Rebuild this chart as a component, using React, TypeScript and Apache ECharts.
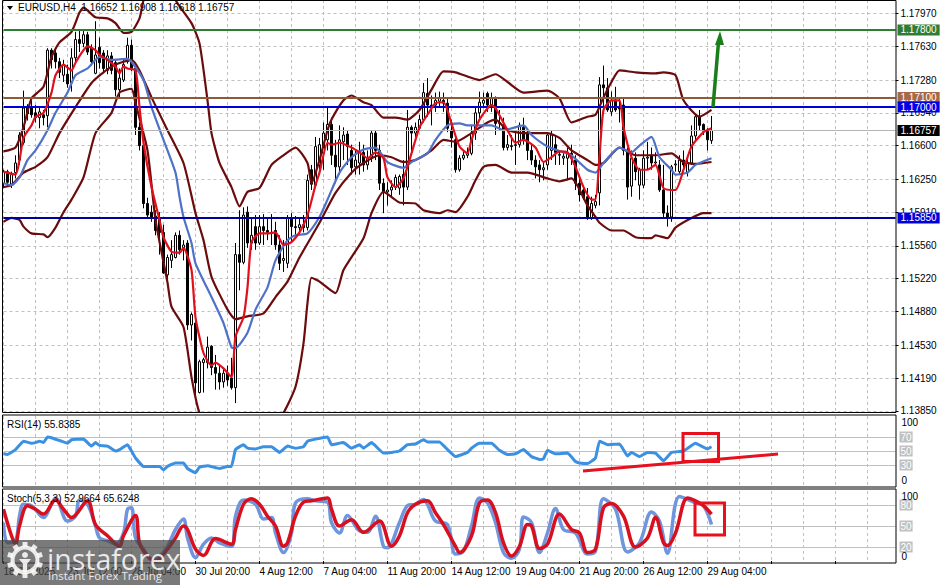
import React, { useEffect, useRef } from "react";
import * as echarts from "echarts";

const FONT = "Liberation Sans";
const BAR_COUNT = 224;
const timeLabels = ["18 Jul 2025","23 Jul 12:00","28 Jul 04:00","30 Jul 20:00","4 Aug 12:00","7 Aug 04:00","11 Aug 20:00","14 Aug 12:00","19 Aug 04:00","21 Aug 20:00","26 Aug 12:00","29 Aug 04:00"];
const priceTicks = [1.1797,1.1763,1.1728,1.1694,1.166,1.1625,1.1591,1.1556,1.1522,1.1488,1.1453,1.1419,1.1385];

// open, close, low, high, in units of 0.0001
const ohlc = [
[11621,11633,11616,11635],[11633,11622,11618,11635],[11620,11630,11616,11633],[11632,11642,11626,11650],[11645,11671,11640,11674],
[11663,11699,11661,11717],[11699,11693,11686,11703],[11700,11692,11689,11707],[11694,11689,11684,11702],[11689,11695,11678,11701],
[11692,11689,11681,11697],[11691,11759,11679,11761],[11759,11749,11740,11761],[11756,11747,11740,11761],[11747,11736,11730,11751],
[11733,11744,11726,11749],[11734,11724,11720,11744],[11725,11751,11716,11761],[11751,11770,11747,11778],[11770,11766,11757,11779],
[11766,11775,11762,11779],[11775,11757,11754,11778],[11761,11747,11743,11765],[11735,11754,11734,11789],[11762,11746,11740,11772],
[11756,11740,11735,11759],[11738,11753,11734,11759],[11753,11738,11734,11757],[11746,11718,11711,11749],[11718,11730,11710,11740],
[11728,11744,11726,11749],[11747,11764,11745,11772],[11764,11740,11737,11770],[11740,11679,11671,11743],[11679,11660,11655,11684],
[11660,11600,11595,11663],[11600,11588,11585,11606],[11591,11586,11581,11598],[11587,11572,11567,11593],[11585,11570,11547,11591],
[11570,11528,11527,11578],[11526,11544,11521,11547],[11541,11547,11533,11562],[11544,11567,11543,11570],[11567,11552,11547,11572],
[11552,11557,11541,11562],[11559,11474,11469,11562],[11474,11485,11458,11487],[11476,11414,11401,11479],[11404,11436,11403,11438],
[11435,11438,11404,11440],[11435,11451,11429,11462],[11452,11430,11422,11453],[11430,11424,11407,11443],[11424,11415,11407,11432],
[11415,11424,11409,11429],[11424,11417,11411,11432],[11419,11409,11407,11440],[11409,11547,11393,11559],[11547,11539,11510,11593],
[11539,11588,11537,11596],[11591,11559,11554,11597],[11559,11567,11552,11585],[11576,11559,11552,11588],[11559,11576,11557,11588],
[11576,11572,11557,11589],[11572,11570,11562,11585],[11570,11569,11557,11589],[11572,11557,11552,11581],[11557,11538,11531,11567],
[11541,11543,11529,11562],[11538,11585,11533,11588],[11585,11576,11560,11590],[11576,11575,11564,11587],[11575,11578,11567,11586],
[11578,11575,11570,11588],[11575,11624,11572,11630],[11635,11620,11614,11640],[11619,11659,11618,11669],[11640,11661,11635,11668],
[11652,11673,11635,11684],[11666,11682,11655,11699],[11682,11650,11640,11689],[11650,11638,11621,11666],[11638,11666,11630,11681],
[11664,11671,11645,11679],[11672,11659,11640,11676],[11655,11637,11630,11661],[11638,11645,11630,11655],[11642,11653,11630,11664],
[11653,11640,11633,11661],[11640,11647,11635,11655],[11648,11673,11643,11676],[11673,11655,11645,11676],[11655,11621,11614,11661],
[11621,11612,11590,11626],[11612,11614,11598,11622],[11614,11617,11607,11624],[11617,11627,11614,11630],[11616,11628,11609,11630],
[11630,11617,11598,11645],[11617,11679,11614,11697],[11679,11673,11650,11681],[11673,11679,11669,11684],[11678,11687,11676,11692],
[11687,11715,11684,11725],[11714,11702,11690,11730],[11702,11701,11681,11712],[11702,11707,11695,11715],[11706,11709,11699,11716],
[11707,11704,11695,11715],[11704,11678,11674,11709],[11676,11668,11658,11687],[11666,11635,11632,11671],[11635,11647,11633,11650],
[11647,11650,11645,11655],[11650,11652,11647,11658],[11652,11673,11650,11681],[11673,11694,11666,11699],[11694,11705,11687,11716],
[11704,11707,11699,11715],[11714,11702,11695,11716],[11702,11709,11695,11715],[11709,11683,11671,11711],[11683,11684,11676,11697],
[11681,11658,11655,11689],[11658,11661,11655,11671],[11660,11659,11655,11671],[11660,11661,11640,11674],[11661,11681,11658,11684],
[11679,11666,11661,11689],[11674,11655,11645,11678],[11655,11645,11640,11661],[11645,11638,11626,11650],[11640,11635,11622,11645],
[11635,11637,11624,11643],[11640,11671,11635,11673],[11655,11671,11645,11676],[11661,11653,11640,11671],[11650,11651,11640,11655],
[11647,11649,11640,11653],[11647,11652,11624,11658],[11652,11647,11640,11661],[11645,11621,11614,11650],[11621,11609,11602,11626],
[11614,11606,11604,11619],[11607,11585,11583,11616],[11585,11600,11583,11607],[11598,11602,11595,11609],[11611,11723,11598,11731],
[11723,11720,11697,11743],[11720,11697,11695,11730],[11695,11707,11691,11716],[11707,11697,11695,11721],[11699,11698,11684,11709],
[11702,11655,11650,11709],[11655,11617,11604,11658],[11618,11647,11607,11655],[11647,11633,11624,11653],[11619,11635,11604,11637],
[11619,11647,11616,11655],[11647,11648,11635,11664],[11650,11642,11635,11658],[11642,11643,11639,11653],[11640,11614,11612,11645],
[11614,11590,11586,11640],[11590,11585,11576,11598],[11586,11638,11581,11640],[11640,11641,11633,11645],[11633,11645,11630,11650],
[11645,11640,11633,11655],[11632,11642,11628,11650],[11642,11670,11640,11681],[11670,11690,11666,11692],[11690,11681,11676,11697],
[11682,11675,11671,11683],[11675,11666,11655,11678],[11665.2,11675.7,11661.8,11690.8]];

const redLine = [[0,11633],[3,11630],[4,11645],[5,11668],[7,11681],[8,11690],[10,11694],[12,11715],[13,11733],[15,11744],[17,11738],[18,11746],[20,11759],[21,11763],[23,11759],[24,11754],[26,11749],[28,11742],[29,11735],[30,11742],[31,11740],[33,11738],[34,11700],[35,11663],[37,11617],[39,11583],[40,11565],[42,11550],[44,11549],[45,11554],[47,11531],[48,11482],[50,11445],[52,11432],[53,11435],[55,11429],[57,11420],[58,11462],[60,11482],[61,11513],[62,11560],[64,11569],[66,11569],[68,11570],[70,11557],[72,11560],[74,11570],[76,11588],[78,11619],[79,11632],[81,11663],[82,11661],[84,11663],[87,11658],[89,11653],[91,11647],[93,11653],[95,11647],[96,11627],[98,11617],[100,11626],[102,11652],[104,11679],[106,11692],[108,11704],[110,11705],[112,11683],[114,11659],[116,11652],[117,11666],[119,11687],[122,11702],[123,11699],[126,11676],[128,11663],[130,11666],[133,11658],[135,11643],[137,11648],[139,11654],[141,11653],[143,11638],[145,11617],[147,11604],[148,11604],[149,11648],[150,11697],[152,11707],[154,11707],[155,11679],[157,11648],[159,11635],[161,11635],[163,11640],[165,11616],[168,11614],[170,11635],[172,11659],[175,11674],[177,11678]];
const blueLine = [[0,11621],[2,11619],[4,11627],[6,11645],[8,11655],[11,11676],[13,11694],[16,11715],[18,11733],[21,11740],[24,11752],[27,11749],[31,11750],[32,11747],[35,11728],[37,11700],[40,11666],[43,11632],[44,11607],[45,11586],[47,11559],[48,11538],[52,11503],[55,11476],[57,11451],[58,11450],[61,11466],[63,11490],[66,11513],[68,11541],[71,11562],[73,11567],[76,11569],[79,11586],[81,11604],[84,11632],[87,11648],[90,11656],[93,11658],[96,11643],[100,11637],[102,11643],[106,11652],[108,11666],[111,11681],[114,11683],[116,11681],[122,11681],[125,11676],[130,11681],[132,11671],[136,11659],[140,11653],[142,11650],[146,11635],[148,11632],[150,11642],[154,11658],[157,11653],[159,11660],[162,11669],[164,11648],[167,11635],[168,11630],[171,11632],[173,11640],[177,11647]];
const bandMid = [[0,11617],[2,11619],[5,11632],[8,11638],[11,11648],[14,11673],[18,11700],[22,11725],[25,11736],[28,11744],[32,11749],[34,11738],[37,11710],[41,11676],[45,11642],[48,11590],[50,11562],[52,11524],[56,11490],[58,11480],[61,11483],[65,11486],[68,11503],[71,11519],[74,11544],[79,11580],[83,11611],[87,11632],[90,11642],[94,11650],[97,11648],[100,11643],[103,11645],[107,11655],[110,11666],[113,11664],[117,11673],[121,11684],[123,11687],[126,11676],[130,11673],[136,11673],[139,11668],[142,11655],[146,11645],[148,11640],[150,11642],[154,11658],[158,11650],[163,11650],[167,11652],[170,11643],[173,11641],[177,11643]];
const bandUpper = [[0,11654],[3,11658],[5,11679],[7,11709],[10,11721],[12,11752],[14,11767],[17,11778],[19,11798],[20,11803],[23,11793],[26,11792],[28,11787],[30,11777],[32,11778],[34,11792],[35,11811],[36,11823],[38,11842],[41,11837],[43,11811],[47,11787],[49,11766],[51,11707],[52,11673],[54,11642],[57,11617],[59,11597],[61,11612],[64,11616],[67,11640],[70,11650],[73,11658],[76,11642],[77,11621],[79,11645],[81,11676],[82,11687],[85,11707],[87,11712],[90,11705],[92,11702],[95,11689],[98,11689],[101,11687],[104,11697],[107,11718],[110,11737],[113,11736],[119,11728],[123,11734],[126,11726],[130,11715],[136,11717],[139,11709],[142,11684],[146,11690],[148,11692],[150,11710],[152,11726],[154,11738],[158,11736],[163,11735],[165,11736],[168,11733],[170,11707],[174,11690],[177,11697]];
const bandLower = [[0,11581],[2,11585],[4,11583],[5,11576],[7,11569],[10,11568],[11,11565],[13,11575],[15,11591],[17,11604],[20,11627],[23,11673],[27,11694],[29,11715],[32,11719],[33,11704],[36,11655],[38,11583],[41,11518],[42,11493],[45,11472],[47,11420],[49,11383],[51,11380],[52,11383],[54,11370],[63,11360],[67,11370],[70,11383],[73,11410],[75,11455],[76,11497],[77,11523],[79,11519],[83,11507],[85,11531],[90,11564],[92,11590],[95,11612],[99,11601],[103,11600],[105,11593],[109,11590],[111,11593],[113,11591],[116,11607],[118,11624],[120,11638],[123,11640],[127,11632],[131,11632],[136,11626],[139,11623],[142,11626],[146,11598],[148,11586],[149,11580],[152,11572],[155,11572],[158,11565],[162,11564],[163,11567],[166,11564],[168,11575],[172,11585],[175,11590],[177,11590]];
const rsiLine = [[0,46],[1,45],[3,52],[5,64],[7,61],[8,62],[9,64],[10,62],[11,70],[12,69],[14,65],[16,61],[17,66],[20,67],[22,57],[23,62],[24,58],[26,57],[28,50],[29,52],[31,59],[32,50],[33,40],[35,28],[37,28],[39,28],[40,23],[41,28],[43,33],[45,33],[46,25],[48,19],[49,27],[51,29],[54,25],[56,28],[57,28],[58,52],[60,59],[61,54],[63,53],[65,56],[67,56],[69,48],[71,57],[73,54],[75,56],[76,64],[78,67],[81,70],[82,59],[85,62],[87,54],[89,59],[90,54],[92,62],[95,47],[97,48],[99,50],[101,59],[103,60],[105,66],[106,63],[109,63],[111,52],[113,42],[116,48],[117,54],[119,61],[122,61],[124,51],[126,45],[128,46],[130,52],[132,42],[134,38],[135,39],[136,51],[138,46],[141,47],[143,35],[144,33],[146,32],[148,40],[149,64],[151,59],[154,60],[156,43],[157,48],[159,42],[161,48],[163,47],[165,36],[167,48],[170,50],[173,61],[176,53],[177,56]];
const stochBlue = [[0,55],[1,26],[3,29],[4,64],[5,81],[7,79],[10,62],[12,81],[13,90],[16,57],[18,64],[19,87],[21,81],[23,50],[24,33],[26,29],[28,24],[30,40],[31,74],[32,76],[33,33],[35,17],[37,2],[39,7],[41,21],[43,45],[45,60],[46,33],[48,5],[50,24],[52,33],[54,26],[57,21],[58,64],[60,87],[63,81],[65,60],[67,62],[68,40],[70,12],[72,40],[73,83],[76,89],[78,86],[81,84],[82,55],[84,40],[86,65],[89,43],[91,41],[93,64],[95,21],[96,19],[99,55],[101,79],[103,81],[105,88],[106,81],[108,57],[111,52],[113,10],[115,14],[117,50],[119,90],[121,83],[123,55],[125,12],[127,4],[129,17],[130,63],[132,55],[134,12],[136,40],[138,75],[140,45],[143,40],[146,10],[148,14],[150,89],[153,74],[156,13],[159,26],[162,70],[164,57],[166,11],[169,92],[173,83],[175,79],[177,52]];
const stochRed = [[0,74],[2,36],[3,24],[4,50],[6,79],[8,74],[10,67],[13,87],[15,74],[17,62],[21,86],[23,52],[26,36],[29,21],[30,36],[33,65],[34,26],[36,7],[38,0],[41,17],[43,33],[45,50],[46,45],[48,17],[50,8],[53,32],[57,24],[58,45],[60,81],[62,89],[64,81],[66,64],[68,50],[70,21],[71,26],[73,64],[75,84],[77,86],[81,90],[82,74],[84,50],[87,59],[90,41],[94,57],[97,21],[99,36],[101,69],[103,81],[106,86],[108,69],[110,52],[113,21],[114,12],[117,36],[119,83],[121,87],[123,69],[125,26],[127,7],[129,21],[131,52],[132,50],[134,18],[136,24],[139,67],[142,45],[144,40],[146,12],[148,17],[150,76],[152,82],[155,64],[158,20],[161,33],[163,62],[165,26],[166,22],[168,40],[171,90],[173,86],[175,79],[177,67]];

const levels = [
  { value: 1.178, color: "#2e7d32", label: "#2e7d32" },
  { value: 1.171, color: "#8f5a3a", label: "#a5694a" },
  { value: 1.17, color: "#0000d8", label: "#0000e6" },
  { value: 1.1585, color: "#00009c", label: "#0000d8" },
];
const lastPrice = 1.16757;

const price = (v: number) => v / 10000;
const asPrice = (rows: number[][]) => rows.map(([i, v]) => [i, price(v)]);
const categories = Array.from({ length: BAR_COUNT }, (_, i) => (i % 16 === 0 ? timeLabels[i / 16] ?? "" : ""));

const GRID = "#c0c0c0";
const grids = [
  { left: 3.5, width: 892, top: 0, height: 412 },
  { left: 3.5, width: 892, top: 416, height: 70 },
  { left: 3.5, width: 892, top: 491, height: 70 },
];

const xAxis = (gridIndex: number, labels: boolean) => ({
  type: "category", gridIndex, data: categories, boundaryGap: false,
  axisLine: { show: false },
  axisTick: { show: labels, interval: 15, length: 3, lineStyle: { color: "#000" } },
  axisLabel: { show: labels, interval: 15, align: "left", margin: 5, fontFamily: FONT, fontSize: 10, color: "#000", hideOverlap: false },
  splitLine: { show: true, interval: 7, lineStyle: { color: GRID, type: [3, 3], width: 1 } },
});

// Level labels (grey chips) and their solid guide lines.
const bandAxis = (gridIndex: number, values: number[]) => ({
  type: "value", gridIndex, position: "right", min: 0, max: 100,
  axisLine: { show: false },
  axisTick: { show: false, customValues: values },
  splitLine: { show: true, lineStyle: { color: GRID, width: 1 } },
  axisLabel: {
    customValues: values, margin: 4, fontFamily: FONT, fontSize: 10, align: "left",
    color: "#fff", backgroundColor: "#c0c0c0", padding: [1, 1, 0, 1],
  },
});
// 0 and 100: a second axis on the same pane, so that they do not hide the chips.
const endAxis = (gridIndex: number, topPad: number, botPad: number) => ({
  type: "value", gridIndex, position: "right", min: 0, max: 100,
  axisLine: { show: false },
  axisTick: { show: false },
  splitLine: { show: false },
  axisLabel: {
    customValues: [0, 100], margin: 6, align: "left",
    formatter: (v: number) => (v === 100 ? `{top|${v}}` : `{bot|${v}}`),
    rich: {
      top: { color: "#000", fontSize: 10, fontFamily: FONT, padding: [topPad, 0, 0, 0] },
      bot: { color: "#000", fontSize: 10, fontFamily: FONT, padding: [0, 0, botPad, 0] },
    },
  },
});

const line = (name: string, data: number[][], color: string, width: number, x: number, z: number, smooth = 0.2) => ({
  name, type: "line", data, xAxisIndex: x, yAxisIndex: x, symbol: "none", z, silent: true, smooth,
  lineStyle: { color, width, join: "round" },
});

const marks = (items: { value: number; color: string; label: string }[], width: number, z: number) => ({
  type: "line", data: [], xAxisIndex: 0, yAxisIndex: 0, z, silent: true, symbol: "none",
  markLine: {
    silent: true, symbol: "none", animation: false, precision: 5,
    data: items.map((l) => ({
      yAxis: l.value,
      lineStyle: { color: l.color, width, type: "solid" },
      label: {
        show: true, position: "end", distance: 2, formatter: l.value.toFixed(5),
        color: "#fff", backgroundColor: l.label, fontFamily: FONT, fontSize: 10, padding: [1, 3, 0, 3],
      },
    })),
  },
});

const gearTeeth = Array.from({ length: 10 }, (_, i) => i * 36);

export default function App() {
  const ref = useRef<HTMLDivElement>(null);
  useEffect(() => {
    document.body.style.margin = "0";
    document.body.style.background = "#fff";
    const chart = echarts.init(ref.current!, undefined, { renderer: "svg" });
    const wm = "rgba(255,255,255,0.85)";
    chart.setOption({
      animation: false,
      backgroundColor: "#fff",
      textStyle: { fontFamily: FONT },
      grid: grids,
      xAxis: [xAxis(0, false), xAxis(1, false), xAxis(2, true)],
      yAxis: [
        {
          type: "value", gridIndex: 0, position: "right", min: 1.13838, max: 1.1811,
          axisLine: { show: false },
          axisTick: { show: true, length: 3, customValues: priceTicks, lineStyle: { color: "#000" } },
          axisLabel: { customValues: priceTicks, margin: 5, fontFamily: FONT, fontSize: 10, color: "#000", align: "left", formatter: (v: number) => v.toFixed(5) },
          splitLine: { show: true, lineStyle: { color: GRID, type: [3, 3], width: 1 } },
        },
        bandAxis(1, [30, 50, 70]),
        bandAxis(2, [20, 50, 80]),
        endAxis(1, 12, 12),
        endAxis(2, 11, 9),
      ],
      series: [
        marks([{ value: lastPrice, color: "#b4b4b4", label: "#000" }], 1, 1),
        {
          type: "candlestick", xAxisIndex: 0, yAxisIndex: 0, z: 2, silent: true, barWidth: 3,
          data: ohlc.map((r) => r.map(price)),
          itemStyle: { color: "#fff", color0: "#000", borderColor: "#000", borderColor0: "#000", borderWidth: 1 },
        },
        line("upper", asPrice(bandUpper), "#6b0b0b", 2.2, 0, 3),
        line("mid", asPrice(bandMid), "#6b0b0b", 2.2, 0, 3),
        line("lower", asPrice(bandLower), "#6b0b0b", 2.2, 0, 3),
        line("slow", asPrice(blueLine), "#4f72c8", 2.2, 0, 4),
        line("fast", asPrice(redLine), "#e0101c", 2.2, 0, 5),
        marks(levels, 2, 6),
        line("rsi", rsiLine, "#3b90e2", 3, 1, 3, 0.1),
        line("stochK", stochBlue, "#6f95dc", 3.5, 2, 3, 0.35),
        line("stochD", stochRed, "#d80f1e", 3.5, 2, 4, 0.35),
      ],
      graphic: [
        { type: "rect", z: 20, silent: true, shape: { x: 2.5, y: 0.5, width: 893.5, height: 412 }, style: { fill: "none", stroke: "#000", lineWidth: 1 } },
        { type: "rect", z: 20, silent: true, shape: { x: 2.5, y: 415, width: 893.5, height: 72 }, style: { fill: "none", stroke: "#000", lineWidth: 1 } },
        { type: "rect", z: 20, silent: true, shape: { x: 2.5, y: 489, width: 893.5, height: 74 }, style: { fill: "none", stroke: "#000", lineWidth: 1 } },
        { type: "polygon", z: 21, silent: true, shape: { points: [[7, 6], [13, 6], [10, 10]] }, style: { fill: "#000" } },
        { type: "text", z: 21, silent: true, x: 18, y: 2, style: { text: "EURUSD,H4  1.16652 1.16908 1.16618 1.16757", fontFamily: FONT, fontSize: 10, fill: "#000" } },
        { type: "text", z: 21, silent: true, x: 7, y: 419, style: { text: "RSI(14) 55.8385", fontFamily: FONT, fontSize: 10, fill: "#000" } },
        { type: "text", z: 21, silent: true, x: 7, y: 493, style: { text: "Stoch(5,3,3) 52.9664 65.6248", fontFamily: FONT, fontSize: 10, fill: "#000" } },
        { type: "line", z: 22, silent: true, shape: { x1: 713, y1: 107, x2: 718.5, y2: 42 }, style: { stroke: "#1a7f1a", lineWidth: 3.5 } },
        { type: "polygon", z: 22, silent: true, shape: { points: [[720, 31], [715, 45], [724, 45]] }, style: { fill: "#1a7f1a" } },
        { type: "line", z: 22, silent: true, shape: { x1: 583, y1: 471, x2: 778, y2: 454 }, style: { stroke: "#e8101c", lineWidth: 3 } },
        { type: "rect", z: 22, silent: true, shape: { x: 683, y: 433.5, width: 35.5, height: 28 }, style: { fill: "none", stroke: "#e8101c", lineWidth: 3 } },
        { type: "rect", z: 22, silent: true, shape: { x: 695, y: 503, width: 29.5, height: 32 }, style: { fill: "none", stroke: "#e8101c", lineWidth: 3 } },
        { type: "rect", z: 30, silent: true, shape: { x: 0, y: 540, width: 180, height: 45 }, style: { fill: "rgba(70,70,70,0.72)" } },
        { type: "ring", z: 31, silent: true, shape: { cx: 25, cy: 560, r: 14.5, r0: 10.5 }, style: { fill: wm } },
        ...gearTeeth.map((deg) => ({
          type: "rect", z: 31, silent: true, x: 25, y: 560, rotation: (deg * Math.PI) / 180,
          shape: { x: -2.5, y: -18, width: 5, height: 5 }, style: { fill: wm },
        })),
        { type: "circle", z: 31, silent: true, shape: { cx: 25, cy: 555, r: 3 }, style: { fill: wm } },
        { type: "polygon", z: 31, silent: true, shape: { points: [[19, 559], [31, 559], [27, 564], [27, 572], [23, 572], [23, 564]] }, style: { fill: wm } },
        { type: "text", z: 31, silent: true, x: 47, y: 544, style: { text: "instaforex", fontFamily: "Open Sans", fontSize: 28.5, fill: wm } },
        { type: "text", z: 31, silent: true, x: 48, y: 569, style: { text: "Instant Forex Trading", fontFamily: "Open Sans", fontSize: 11.5, fill: wm } },
      ],
    });
    return () => chart.dispose();
  }, []);
  return <div ref={ref} style={{ width: 943, height: 585 }} />;
}
